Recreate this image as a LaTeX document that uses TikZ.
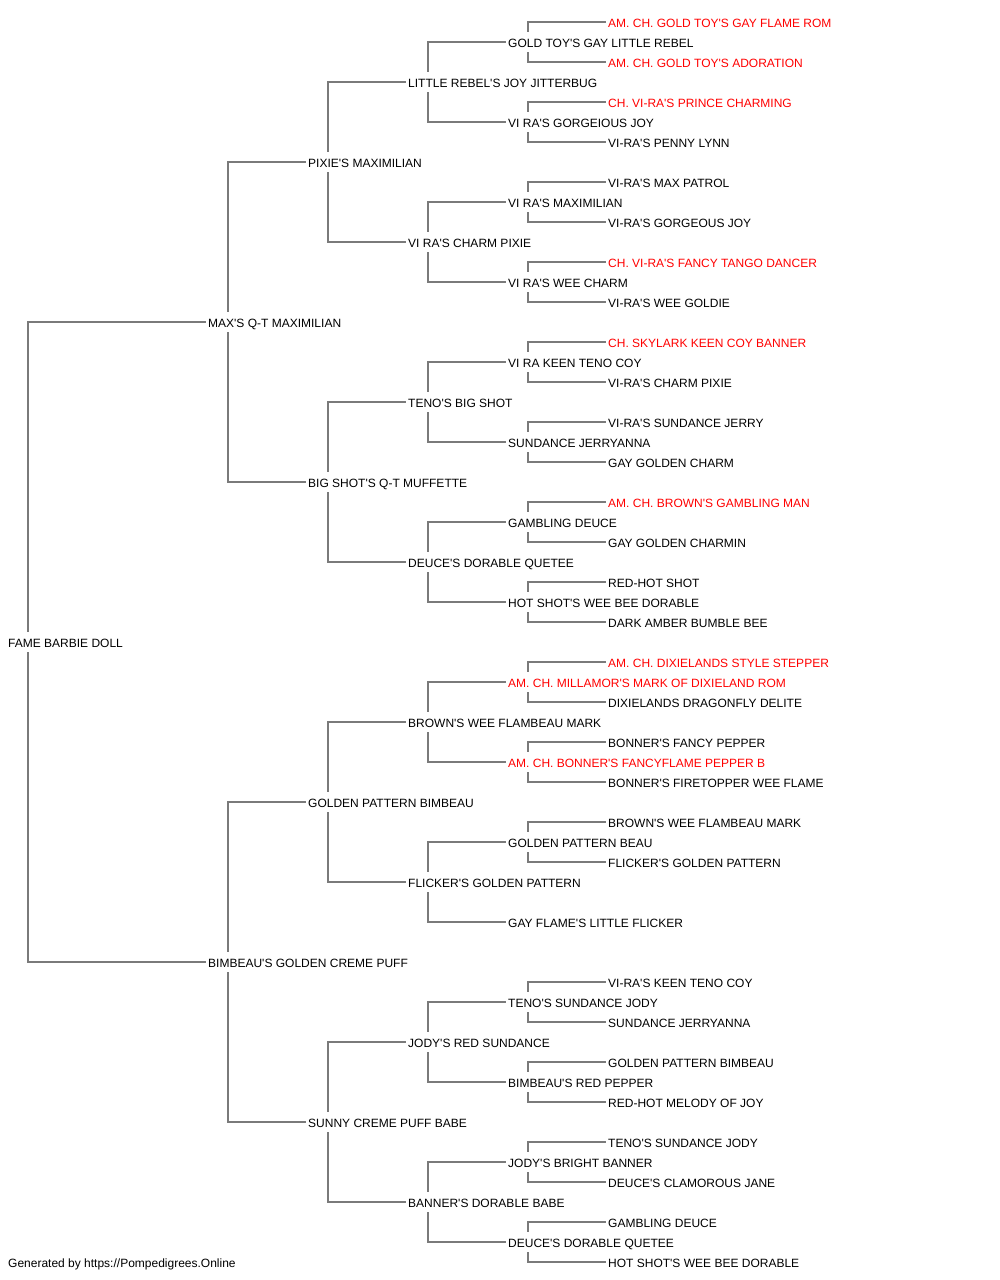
\documentclass[tikz,border=0pt]{standalone}
\usepackage{fontspec}
\setmainfont{Liberation Sans}[Ligatures=TeXOff]
\pgfdeclarelayer{background}
\pgfsetlayers{background,main}
\tikzset{
  pn/.style={anchor=west, inner xsep=2pt, inner ysep=0pt, minimum height=20pt,
    text height=10.4pt, text depth=0pt, fill=white,
    font=\fontsize{12}{14}\selectfont, text=black},
  champ/.style={pn, text=red},
  conn/.style={draw=black!52, line width=1.4pt},
}
\newcommand{\pair}[3]{\draw[conn] (#2.west) -| ([xshift=22pt]#1.west) |- (#3.west);}
\begin{document}
\begin{tikzpicture}[x=1pt,y=-1pt]
\useasboundingbox (0,0) rectangle (1000,1280);
% generation 0
\node[pn] (a) at (6,642) {FAME BARBIE DOLL};
% generation 1
\node[pn] (b1) at (206,322) {MAX'S Q-T MAXIMILIAN};
\node[pn] (b2) at (206,962) {BIMBEAU'S GOLDEN CREME PUFF};
% generation 2
\node[pn] (c1) at (306,162) {PIXIE'S MAXIMILIAN};
\node[pn] (c2) at (306,482) {BIG SHOT'S Q-T MUFFETTE};
\node[pn] (c3) at (306,802) {GOLDEN PATTERN BIMBEAU};
\node[pn] (c4) at (306,1122) {SUNNY CREME PUFF BABE};
% generation 3
\node[pn] (d1) at (406,82) {LITTLE REBEL'S JOY JITTERBUG};
\node[pn] (d2) at (406,242) {VI RA'S CHARM PIXIE};
\node[pn] (d3) at (406,402) {TENO'S BIG SHOT};
\node[pn] (d4) at (406,562) {DEUCE'S DORABLE QUETEE};
\node[pn] (d5) at (406,722) {BROWN'S WEE FLAMBEAU MARK};
\node[pn] (d6) at (406,882) {FLICKER'S GOLDEN PATTERN};
\node[pn] (d7) at (406,1042) {JODY'S RED SUNDANCE};
\node[pn] (d8) at (406,1202) {BANNER'S DORABLE BABE};
% generation 4
\node[pn] (e1) at (506,42) {GOLD TOY'S GAY LITTLE REBEL};
\node[pn] (e2) at (506,122) {VI RA'S GORGEIOUS JOY};
\node[pn] (e3) at (506,202) {VI RA'S MAXIMILIAN};
\node[pn] (e4) at (506,282) {VI RA'S WEE CHARM};
\node[pn] (e5) at (506,362) {VI RA KEEN TENO COY};
\node[pn] (e6) at (506,442) {SUNDANCE JERRYANNA};
\node[pn] (e7) at (506,522) {GAMBLING DEUCE};
\node[pn] (e8) at (506,602) {HOT SHOT'S WEE BEE DORABLE};
\node[champ] (e9) at (506,682) {AM. CH. MILLAMOR'S MARK OF DIXIELAND ROM};
\node[champ] (e10) at (506,762) {AM. CH. BONNER'S FANCYFLAME PEPPER B};
\node[pn] (e11) at (506,842) {GOLDEN PATTERN BEAU};
\node[pn] (e12) at (506,922) {GAY FLAME'S LITTLE FLICKER};
\node[pn] (e13) at (506,1002) {TENO'S SUNDANCE JODY};
\node[pn] (e14) at (506,1082) {BIMBEAU'S RED PEPPER};
\node[pn] (e15) at (506,1162) {JODY'S BRIGHT BANNER};
\node[pn] (e16) at (506,1242) {DEUCE'S DORABLE QUETEE};
% generation 5
\node[champ] (f1) at (606,22) {AM. CH. GOLD TOY'S GAY FLAME ROM};
\node[champ] (f2) at (606,62) {AM. CH. GOLD TOY'S ADORATION};
\node[champ] (f3) at (606,102) {CH. VI-RA'S PRINCE CHARMING};
\node[pn] (f4) at (606,142) {VI-RA'S PENNY LYNN};
\node[pn] (f5) at (606,182) {VI-RA'S MAX PATROL};
\node[pn] (f6) at (606,222) {VI-RA'S GORGEOUS JOY};
\node[champ] (f7) at (606,262) {CH. VI-RA'S FANCY TANGO DANCER};
\node[pn] (f8) at (606,302) {VI-RA'S WEE GOLDIE};
\node[champ] (f9) at (606,342) {CH. SKYLARK KEEN COY BANNER};
\node[pn] (f10) at (606,382) {VI-RA'S CHARM PIXIE};
\node[pn] (f11) at (606,422) {VI-RA'S SUNDANCE JERRY};
\node[pn] (f12) at (606,462) {GAY GOLDEN CHARM};
\node[champ] (f13) at (606,502) {AM. CH. BROWN'S GAMBLING MAN};
\node[pn] (f14) at (606,542) {GAY GOLDEN CHARMIN};
\node[pn] (f15) at (606,582) {RED-HOT SHOT};
\node[pn] (f16) at (606,622) {DARK AMBER BUMBLE BEE};
\node[champ] (f17) at (606,662) {AM. CH. DIXIELANDS STYLE STEPPER};
\node[pn] (f18) at (606,702) {DIXIELANDS DRAGONFLY DELITE};
\node[pn] (f19) at (606,742) {BONNER'S FANCY PEPPER};
\node[pn] (f20) at (606,782) {BONNER'S FIRETOPPER WEE FLAME};
\node[pn] (f21) at (606,822) {BROWN'S WEE FLAMBEAU MARK};
\node[pn] (f22) at (606,862) {FLICKER'S GOLDEN PATTERN};
\node[pn] (f25) at (606,982) {VI-RA'S KEEN TENO COY};
\node[pn] (f26) at (606,1022) {SUNDANCE JERRYANNA};
\node[pn] (f27) at (606,1062) {GOLDEN PATTERN BIMBEAU};
\node[pn] (f28) at (606,1102) {RED-HOT MELODY OF JOY};
\node[pn] (f29) at (606,1142) {TENO'S SUNDANCE JODY};
\node[pn] (f30) at (606,1182) {DEUCE'S CLAMOROUS JANE};
\node[pn] (f31) at (606,1222) {GAMBLING DEUCE};
\node[pn] (f32) at (606,1262) {HOT SHOT'S WEE BEE DORABLE};
% footer
\node[pn] (foot) at (6,1262) {Generated by https://Pompedigrees.Online};
% connectors
\begin{pgfonlayer}{background}
\fill[white] (0,0) rectangle (1000,1280);
\pair{a}{b1}{b2}
\pair{b1}{c1}{c2}
\pair{b2}{c3}{c4}
\pair{c1}{d1}{d2}
\pair{c2}{d3}{d4}
\pair{c3}{d5}{d6}
\pair{c4}{d7}{d8}
\pair{d1}{e1}{e2}
\pair{d2}{e3}{e4}
\pair{d3}{e5}{e6}
\pair{d4}{e7}{e8}
\pair{d5}{e9}{e10}
\pair{d6}{e11}{e12}
\pair{d7}{e13}{e14}
\pair{d8}{e15}{e16}
\pair{e1}{f1}{f2}
\pair{e2}{f3}{f4}
\pair{e3}{f5}{f6}
\pair{e4}{f7}{f8}
\pair{e5}{f9}{f10}
\pair{e6}{f11}{f12}
\pair{e7}{f13}{f14}
\pair{e8}{f15}{f16}
\pair{e9}{f17}{f18}
\pair{e10}{f19}{f20}
\pair{e11}{f21}{f22}
\pair{e13}{f25}{f26}
\pair{e14}{f27}{f28}
\pair{e15}{f29}{f30}
\pair{e16}{f31}{f32}
\end{pgfonlayer}
\end{tikzpicture}
\end{document}
